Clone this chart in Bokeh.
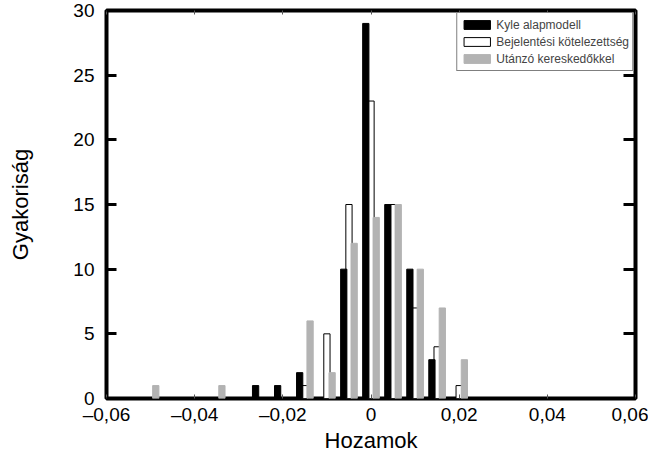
from bokeh.plotting import figure
from bokeh.models import ColumnDataSource, Range1d, FixedTicker, LinearAxis, Legend, LegendItem
from bokeh.transform import dodge
from bokeh.embed import file_html
from bokeh.resources import INLINE

# ---- data ----
bins = [-0.05, -0.045, -0.04, -0.035, -0.03, -0.025, -0.02, -0.015,
        -0.01, -0.005, 0.0, 0.005, 0.01, 0.015, 0.02]
kyle = [0, 0, 0, 0, 0, 1, 1, 2, 0, 10, 29, 15, 10, 3, 0]
bejelentesi = [0, 0, 0, 0, 0, 0, 0, 1, 5, 15, 23, 15, 7, 4, 1]
utanzo = [1, 0, 0, 1, 0, 0, 0, 6, 2, 12, 14, 15, 10, 7, 3]
series_names = ["Kyle alapmodell", "Bejelentési kötelezettség", "Utánzó kereskedőkkel"]

x_ticks = [-0.06, -0.04, -0.02, 0, 0.02, 0.04, 0.06]
x_tick_labels = ["\u20130,06", "\u20130,04", "\u20130,02", "0", "0,02", "0,04", "0,06"]
y_ticks = [0, 5, 10, 15, 20, 25, 30]
x_title = "Hozamok"
y_title = "Gyakoriság"

FONT = "Liberation Sans"

p = figure(frame_width=529, frame_height=388, output_backend="svg", toolbar_location=None,
           x_range=Range1d(-0.06, 0.06), y_range=Range1d(0, 30),
           min_border_left=106, min_border_right=13, min_border_top=10, min_border_bottom=55,
           x_axis_label=x_title, y_axis_label=y_title)
p.grid.visible = False
p.background_fill_color = "white"
p.border_fill_color = "white"
p.outline_line_color = "black"
p.outline_line_width = 4


def src(vals):
    xs = [b for b, v in zip(bins, vals) if v > 0]
    ys = [v for v in vals if v > 0]
    return ColumnDataSource(dict(x=xs, top=ys))


bw = 0.00142
off = 0.00118
r_white = p.vbar(x=dodge("x", 0.0, range=p.x_range), top="top", bottom=0, width=bw,
                 source=src(bejelentesi), fill_color="white", line_color="black", line_width=1)
r_black = p.vbar(x=dodge("x", -off, range=p.x_range), top="top", bottom=0, width=bw,
                 source=src(kyle), fill_color="black", line_color="black", line_width=1)
r_gray = p.vbar(x=dodge("x", off, range=p.x_range), top="top", bottom=0, width=bw,
                source=src(utanzo), fill_color="#b3b3b3", line_color="#b3b3b3", line_width=1)

# bottom axis
xa = p.xaxis[0]
xa.ticker = FixedTicker(ticks=x_ticks)
xa.major_label_overrides = {t: l for t, l in zip(x_ticks, x_tick_labels)}
xa.minor_tick_line_color = None
xa.major_tick_in = 4
xa.major_tick_out = 0
xa.major_tick_line_color = "#555555"
xa.major_tick_line_width = 1
xa.axis_line_color = None
xa.major_label_text_font = FONT
xa.major_label_text_font_size = "19px"
xa.major_label_text_color = "black"
xa.major_label_standoff = 5
xa.axis_label_text_font = FONT
xa.axis_label_text_font_size = "22px"
xa.axis_label_text_font_style = "normal"
xa.axis_label_text_color = "black"
xa.axis_label_standoff = 0

# left axis
ya = p.yaxis[0]
ya.ticker = FixedTicker(ticks=y_ticks)
ya.minor_tick_line_color = None
ya.major_tick_in = 10
ya.major_tick_out = 0
ya.major_tick_line_color = "black"
ya.major_tick_line_width = 3
ya.axis_line_color = None
ya.major_label_text_font = FONT
ya.major_label_text_font_size = "19px"
ya.major_label_text_color = "black"
ya.major_label_standoff = 12
ya.axis_label_text_font = FONT
ya.axis_label_text_font_size = "22px"
ya.axis_label_text_font_style = "normal"
ya.axis_label_text_color = "black"
ya.axis_label_standoff = 37

# top axis (ticks only, empty labels)
top_axis = LinearAxis(ticker=FixedTicker(ticks=x_ticks),
                      major_label_overrides={t: "" for t in x_ticks},
                      major_label_text_font_size="0px",
                      major_label_standoff=0, major_tick_in=4, major_tick_out=0,
                      major_tick_line_color="#555555", major_tick_line_width=1,
                      minor_tick_line_color=None, axis_line_color=None)
p.add_layout(top_axis, "above")

# right axis (ticks only, empty labels)
right_axis = LinearAxis(ticker=FixedTicker(ticks=y_ticks),
                        major_label_overrides={t: "" for t in y_ticks},
                        major_label_text_font_size="0px",
                        major_label_standoff=0, major_tick_in=12, major_tick_out=0,
                        major_tick_line_color="black", major_tick_line_width=3,
                        minor_tick_line_color=None, axis_line_color=None)
p.add_layout(right_axis, "right")

legend = Legend(items=[LegendItem(label=series_names[0], renderers=[r_black]),
                       LegendItem(label=series_names[1], renderers=[r_white]),
                       LegendItem(label=series_names[2], renderers=[r_gray])],
                location="top_right", margin=2, padding=3, spacing=0,
                glyph_width=33, glyph_height=11, label_height=17, label_standoff=3,
                label_text_font=FONT, label_text_font_size="12px",
                border_line_color="black", border_line_width=1,
                background_fill_color="white", background_fill_alpha=1)
p.add_layout(legend)

open("out.html", "w").write(file_html(p, INLINE))
